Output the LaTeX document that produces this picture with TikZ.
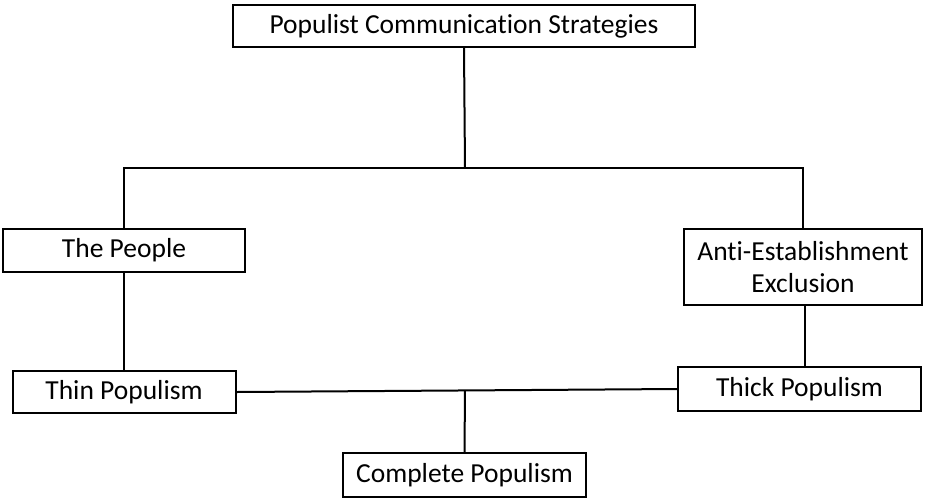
\documentclass[tikz,border=0pt]{standalone}
\usepackage{fontspec}
\setmainfont{Carlito}[Ligatures=NoCommon]
\begin{document}
\begin{tikzpicture}[x=1pt,y=1pt,
  box/.style={draw=black, line width=2pt, fill=white, inner sep=0pt, align=center, font=\fontsize{27.5}{32}\selectfont},
  conn/.style={draw=black, line width=2pt}]
\useasboundingbox (0,0) rectangle (926,-499);
\node[box, minimum width=462, minimum height=42] (top) at (464,-26) {Populist Communication Strategies};
\node[box, minimum width=242, minimum height=43] (people) at (124,-250.5) {The People};
\node[box, minimum width=238, minimum height=76] (anti) at (803,-267) {Anti-Establishment\\Exclusion};
\node[box, minimum width=223, minimum height=42] (thin) at (124,-392) {Thin Populism};
\node[box, minimum width=243, minimum height=44] (thick) at (799.5,-389) {Thick Populism};
\node[box, minimum width=243, minimum height=44] (complete) at (464.5,-475) {Complete Populism};
\coordinate (hub) at (465,-168);
\coordinate (join) at (465,-390);
\draw[conn] (top.south) -- (hub);
\draw[conn] (people.north) |- (hub) -| (anti.north);
\draw[conn] (people.south) -- (thin.north);
\draw[conn] (anti.south -| 805,0) -- (805,-367);
\draw[conn] (thin.east) -- (thick.west);
\draw[conn] (complete.north) -- (join);
\end{tikzpicture}
\end{document}
